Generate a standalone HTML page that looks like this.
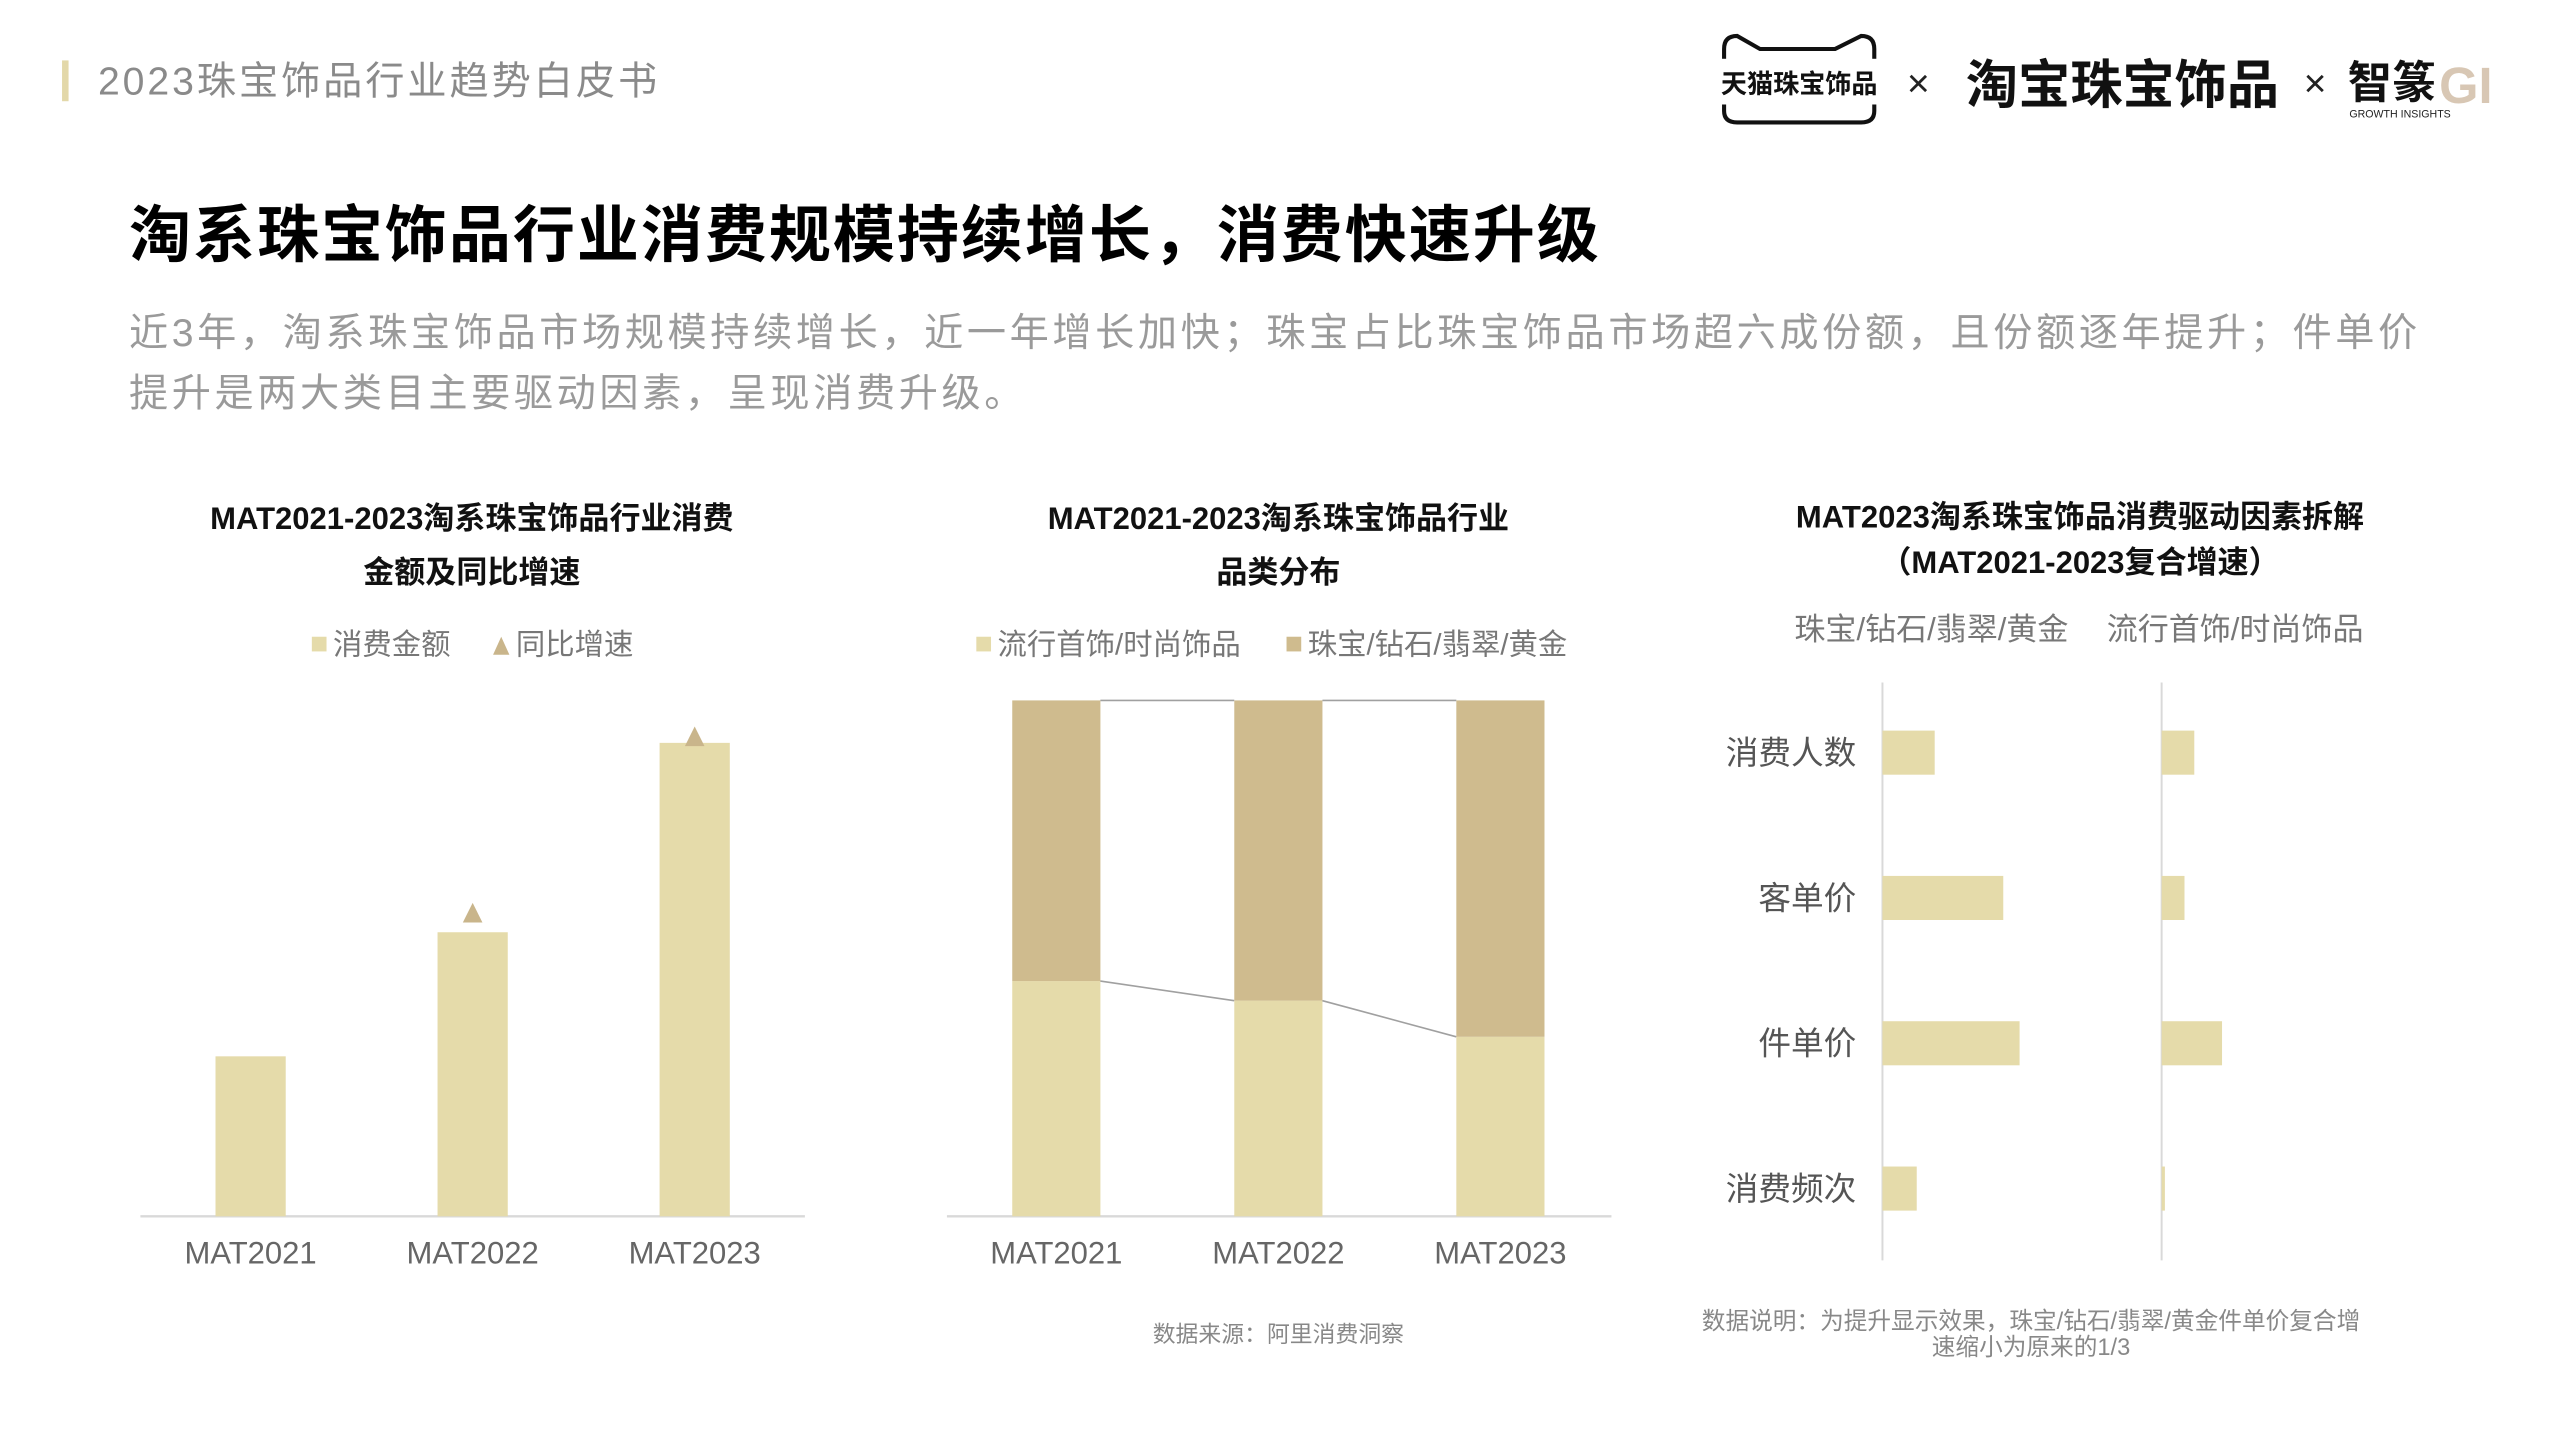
<!DOCTYPE html>
<html><head><meta charset="utf-8"><style>
html,body{margin:0;padding:0;background:#fff;width:2560px;height:1440px;overflow:hidden}
svg{display:block}
text{font-family:"Liberation Sans","Noto Sans CJK SC",sans-serif}
</style></head><body>
<svg id="s" width="2560" height="1440" viewBox="0 0 1568 882">
 <rect x="38" y="37" width="4" height="25" fill="#e3d8a9"/>
 <text x="60" y="58" font-size="24" letter-spacing="1.8" fill="#8a8a8a">2023珠宝饰品行业趋势白皮书</text>
 <g>
  <path d="M1056 30 Q1056 22 1064 22 L1078 30 L1124 30 L1140 22 Q1148 22 1148 30 L1148 68 Q1148 75 1140 75 L1064 75 Q1056 75 1056 68 Z" fill="none" stroke="#111" stroke-width="2.5"/>
  <rect x="1053" y="36" width="97" height="28" fill="#fff"/>
  <text x="1102" y="57" font-size="16" font-weight="bold" text-anchor="middle" fill="#111">天猫珠宝饰品</text>
  <text x="1175" y="59" font-size="24" text-anchor="middle" fill="#222">×</text>
  <text x="1300" y="63" font-size="32" font-weight="bold" text-anchor="middle" fill="#111">淘宝珠宝饰品</text>
  <text x="1418" y="59" font-size="24" text-anchor="middle" fill="#222">×</text>
  <text x="1438" y="60" font-size="27" font-weight="bold" fill="#111">智篆</text>
  <text x="1494" y="63" font-size="31" font-weight="bold" fill="#d8c7b4">GI</text>
  <text x="1439" y="72" font-size="6.5" fill="#222">GROWTH   INSIGHTS</text>
 </g>
 <text x="79" y="157" font-size="38" font-weight="bold" letter-spacing="1.2" fill="#000">淘系珠宝饰品行业消费规模持续增长，消费快速升级</text>
 <text x="79" y="212" font-size="24" letter-spacing="2.2" fill="#9a9a9a">近3年，淘系珠宝饰品市场规模持续增长，近一年增长加快；珠宝占比珠宝饰品市场超六成份额，且份额逐年提升；件单价</text>
 <text x="79" y="249" font-size="24" letter-spacing="2.2" fill="#9a9a9a">提升是两大类目主要驱动因素，呈现消费升级。</text>

 <g id="c1">
  <text x="289" y="324" font-size="19" font-weight="bold" text-anchor="middle" fill="#111">MAT2021-2023淘系珠宝饰品行业消费</text>
  <text x="289" y="357" font-size="19" font-weight="bold" text-anchor="middle" fill="#111">金额及同比增速</text>
  <rect x="191" y="390" width="9" height="9" fill="#e5dbaa"/>
  <text x="204" y="401" font-size="18" fill="#777">消费金额</text>
  <path d="M302 401 L307 390 L312 401 Z" fill="#c9b58b"/>
  <text x="316" y="401" font-size="18" fill="#777">同比增速</text>
  <line x1="86" y1="745" x2="493" y2="745" stroke="#d9d9d9" stroke-width="1.5"/>
 </g>
 <g id="c2">
  <text x="783" y="324" font-size="19" font-weight="bold" text-anchor="middle" fill="#111">MAT2021-2023淘系珠宝饰品行业</text>
  <text x="783" y="357" font-size="19" font-weight="bold" text-anchor="middle" fill="#111">品类分布</text>
  <rect x="598" y="390" width="9" height="9" fill="#e5dbaa"/>
  <text x="611" y="401" font-size="18" fill="#777">流行首饰/时尚饰品</text>
  <rect x="788" y="390" width="9" height="9" fill="#cfbb8e"/>
  <text x="801" y="401" font-size="18" fill="#777">珠宝/钻石/翡翠/黄金</text>
  <line x1="580" y1="745" x2="987" y2="745" stroke="#d9d9d9" stroke-width="1.5"/>
  <text x="783" y="822" font-size="14" text-anchor="middle" fill="#888">数据来源：阿里消费洞察</text>
 </g>
 <g id="c3">
  <text x="1274" y="323" font-size="19" font-weight="bold" text-anchor="middle" fill="#111">MAT2023淘系珠宝饰品消费驱动因素拆解</text>
  <text x="1274" y="351" font-size="19" font-weight="bold" text-anchor="middle" fill="#111">（MAT2021-2023复合增速）</text>
  <text x="1183" y="392" font-size="19" text-anchor="middle" fill="#777">珠宝/钻石/翡翠/黄金</text>
  <text x="1369" y="392" font-size="19" text-anchor="middle" fill="#777">流行首饰/时尚饰品</text>
  <line x1="1153" y1="418" x2="1153" y2="772" stroke="#d9d9d9" stroke-width="1.2"/>
  <line x1="1324" y1="418" x2="1324" y2="772" stroke="#d9d9d9" stroke-width="1.2"/>
  <text x="1244" y="814" font-size="14.5" text-anchor="middle" fill="#888">数据说明：为提升显示效果，珠宝/钻石/翡翠/黄金件单价复合增</text>
  <text x="1244" y="830" font-size="14.5" text-anchor="middle" fill="#888">速缩小为原来的1/3</text>
 </g>
</svg>
<script>
const years = ['MAT2021','MAT2022','MAT2023'];
const amountValues = [98, 174, 290];
const growthValues = [null, 186, 294];
const fashionShare = [45.6, 41.8, 34.8];
const jewelryShare = [54.4, 58.2, 65.2];
const driverCategories = ['消费人数','客单价','件单价','消费频次'];
const jewelryDriverValues = [32, 74, 84, 21];
const fashionDriverValues = [20, 14, 37, 2];

const NS = 'http://www.w3.org/2000/svg';
function mk(parent, tag, attrs, txt){const e=document.createElementNS(NS,tag);for(const k in attrs)e.setAttribute(k,attrs[k]);if(txt!=null)e.textContent=txt;parent.appendChild(e);return e;}

// chart 1
const c1=document.getElementById('c1');
const c1Base=745, c1Scale=1;
const c1X=i=>153.5+i*136;
const c1Y=v=>c1Base-v*c1Scale;
years.forEach((y,i)=>{
  const b=mk(c1,'rect',{x:c1X(i)-21.5,y:c1Y(amountValues[i]),width:43,height:c1Base-c1Y(amountValues[i]),fill:'#e5dbaa'});
  
  
  if(growthValues[i]!=null){
    const ty=c1Y(growthValues[i]);
    const t=mk(c1,'path',{d:`M${c1X(i)-6} ${ty+6} L${c1X(i)} ${ty-6} L${c1X(i)+6} ${ty+6} Z`,fill:'#c9b58b'});
    
    
  }
  const l=mk(c1,'text',{x:c1X(i),y:774,'font-size':19,'text-anchor':'middle',fill:'#666'},y);
  
  
});

// chart 2
const c2=document.getElementById('c2');
const c2Base=745, c2H=316;
const c2X=i=>647+i*136;
const c2Y=p=>c2Base-p/100*c2H;
years.forEach((y,i)=>{
  const f=fashionShare[i], j=jewelryShare[i];
  const a=mk(c2,'rect',{x:c2X(i)-27,y:c2Y(f),width:54,height:c2Base-c2Y(f),fill:'#e5dbaa'});
  
  
  const b=mk(c2,'rect',{x:c2X(i)-27,y:c2Y(f+j),width:54,height:c2Y(f)-c2Y(f+j),fill:'#cfbb8e'});
  
  
  if(i<years.length-1){
    const s1=mk(c2,'line',{x1:c2X(i)+27,y1:c2Y(f),x2:c2X(i+1)-27,y2:c2Y(fashionShare[i+1]),stroke:'#a0a0a0','stroke-width':1});
    
    
    const s2=mk(c2,'line',{x1:c2X(i)+27,y1:c2Y(f+j),x2:c2X(i+1)-27,y2:c2Y(fashionShare[i+1]+jewelryShare[i+1]),stroke:'#a0a0a0','stroke-width':1});
    
    
  }
  const l=mk(c2,'text',{x:c2X(i),y:774,'font-size':19,'text-anchor':'middle',fill:'#666'},y);
  
  
});

// chart 3
const c3=document.getElementById('c3');
const c3Y=i=>461+i*89;
const c3W=v=>v;
driverCategories.forEach((c,i)=>{
  const l=mk(c3,'text',{x:1137,y:c3Y(i)+7,'font-size':20,'text-anchor':'end',fill:'#555'},c);
  
  
  const a=mk(c3,'rect',{x:1153,y:c3Y(i)-13.5,width:c3W(jewelryDriverValues[i]),height:27,fill:'#e5dbaa'});
  
  
  const b=mk(c3,'rect',{x:1324,y:c3Y(i)-13.5,width:c3W(fashionDriverValues[i]),height:27,fill:'#e5dbaa'});
  
  
});
</script>
</body></html>
